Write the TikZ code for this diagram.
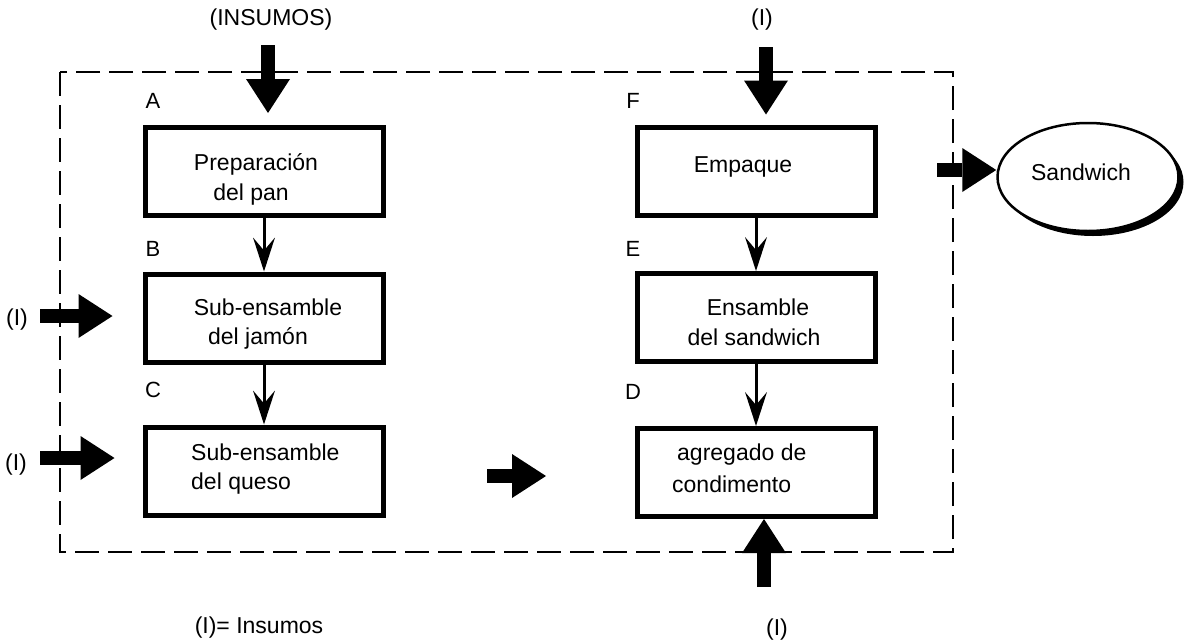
\documentclass[tikz,border=0pt]{standalone}
\usepackage{fontspec}
\setmainfont{Liberation Sans}
\usetikzlibrary{arrows.meta,shapes.geometric,shadows}
\begin{document}
\begin{tikzpicture}[x=1pt,y=-1pt,
  every node/.style={font=\fontsize{23}{28}\selectfont, inner sep=0pt},
  stage/.style={draw, line width=5pt, minimum width=238pt, minimum height=88pt},
  tag/.style={font=\fontsize{22}{26}\selectfont},
  txt/.style={anchor=base},
  txtl/.style={anchor=base west},
  flow/.style={line width=3pt, -{Stealth[length=34pt,width=22pt,inset=13pt,line width=0pt]}},
  feed/.style={line width=14pt, -{Triangle[length=34pt,width=44pt,line width=0pt]}},
  boundary/.style={line width=2.5pt, dash pattern=on 24pt off 9pt},
  product/.style={ellipse, draw, line width=2.5pt, fill=white,
    minimum width=181pt, minimum height=108pt,
    drop shadow={shadow xshift=5pt, shadow yshift=-5pt, fill=black, opacity=1}},
]
\useasboundingbox (0,0) rectangle (1192,643);

% system boundary
\draw[boundary] (60,72) rectangle (953,552);

% process stages
\node[stage] (A) at (264,171.5) {};
\node[stage] (B) at (264,318) {};
\node[stage] (C) at (264,471) {};
\node[stage] (F) at (756,171) {};
\node[stage] (E) at (756,317.5) {};
\node[stage] (D) at (756,472.5) {};

% stage letters
\node[tag] (lA) at (153,101) {A};
\node[tag] (lB) at (153,249) {B};
\node[tag] (lC) at (153,390) {C};
\node[tag] (lF) at (633,101) {F};
\node[tag] (lE) at (633,249) {E};
\node[tag] (lD) at (633,392) {D};

% stage texts
\node[txt] (tA1) at (256,170) {Preparación};
\node[txt] (tA2) at (251,200) {del pan};
\node[txt] (tB1) at (268,315) {Sub-ensamble};
\node[txt] (tB2) at (258,344) {del jamón};
\node[txtl] (tC1) at (191,460) {Sub-ensamble};
\node[txtl] (tC2) at (191,489) {del queso};
\node[txt] (tF1) at (743,172) {Empaque};
\node[txt] (tE1) at (758,315) {Ensamble};
\node[txt] (tE2) at (754,345) {del sandwich};
\node[txtl] (tD1) at (677,460) {agregado de};
\node[txtl] (tD2) at (672,492) {condimento};

% product
\node[product] (S) at (1088,177) {};
\node (tS) at (1081,172) {Sandwich};

% input labels
\node (iA) at (271,20) {(INSUMOS)};
\node (iF) at (762,20) {(I)};
\node (iB) at (17,320) {(I)};
\node (iC) at (16,465) {(I)};
\node (iD) at (777,630) {(I)};
\node (key) at (259,628) {(I)= Insumos};

% flow between stages
\draw[flow] (A.south) -- (B.north);
\draw[flow] (B.south) -- (C.north);
\draw[flow] (F.south) -- (E.north);
\draw[flow] (E.south) -- (D.north);

% inputs and output
\coordinate (inA) at (268,45);
\coordinate (inF) at (766,47);
\coordinate (inB) at (40,316);
\coordinate (inC) at (40,458);
\coordinate (inD) at (764,587);
\coordinate (outF) at (937,170);
\coordinate (midS) at (487,476);
\coordinate (midE) at (546,476);

\draw[feed, shorten >=12pt] (inA) -- (inA |- A.north);
\draw[feed, shorten >=10pt] (inF) -- (inF |- F.north);
\draw[feed, shorten >=30pt] (inB) -- (inB -| B.west);
\draw[feed, shorten >=28pt] (inC) -- (inC -| C.west);
\draw[feed] (inD) -- (inD |- D.south);
\draw[feed] (outF) -- (outF -| S.west);
\draw[feed] (midS) -- (midE);
\end{tikzpicture}
\end{document}
